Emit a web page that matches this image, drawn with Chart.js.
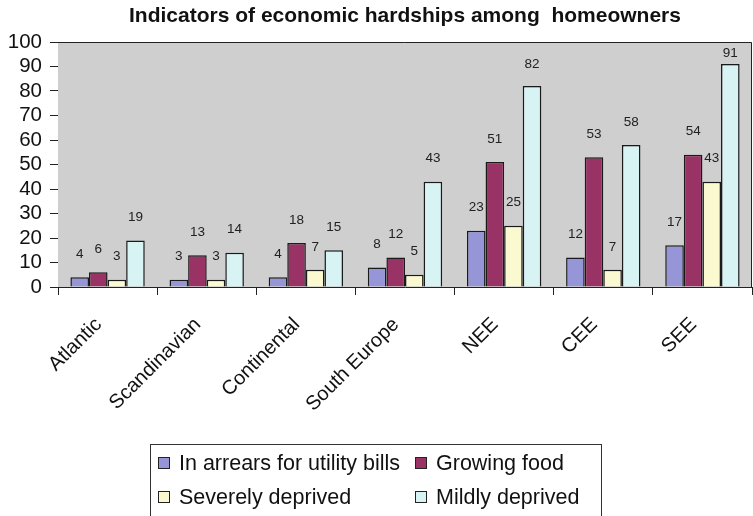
<!DOCTYPE html>
<html><head><meta charset="utf-8">
<script src="https://cdn.jsdelivr.net/npm/chart.js@4"></script>
<style>
html,body{margin:0;padding:0;background:#fff;}
#wrap{position:relative;width:753px;height:516px;overflow:hidden;}
#legend{position:absolute;left:150px;top:444px;width:452px;height:90px;border:1px solid #333;box-sizing:border-box;font-family:"Liberation Sans",Arial,sans-serif;font-size:21.5px;color:#111;}
.item{position:absolute;display:flex;align-items:center;white-space:nowrap;height:24px;line-height:24px;}
.sw{width:10px;height:10px;border:1px solid #222;margin-right:9px;flex:none;}
</style></head>
<body>
<div id="wrap">
<canvas id="c" width="753" height="516"></canvas>
<div id="legend"></div>
</div>
<script>
const categories = ['Atlantic','Scandinavian','Continental','South Europe','NEE','CEE','SEE'];
const arrears = [4,3,4,8,23,12,17];
const growingFood = [6,13,18,12,51,53,54];
const severelyDeprived = [3,3,7,5,25,7,43];
const mildlyDeprived = [19,14,15,43,82,58,91];
const seriesNames = ['In arrears for utility bills','Growing food','Severely deprived','Mildly deprived'];
const seriesColors = ['#9595D8','#993366','#FBF9CF','#D7F3F3'];
const yMin = 0, yMax = 100, yStep = 10;
const titleText = 'Indicators of economic hardships among  homeowners';

const FONT = '"Liberation Sans", Arial, Helvetica, sans-serif';

const plotDeco = {
  id:'plotDeco',
  beforeDatasetsDraw(chart){
    const {ctx, chartArea:a} = chart;
    ctx.save();
    ctx.fillStyle = '#CFCFCF';
    ctx.fillRect(a.left, a.top, a.right-a.left, a.bottom-a.top);
    ctx.restore();
  },
  afterDatasetsDraw(chart){
    const {ctx, chartArea:a} = chart;
    ctx.save();
    ctx.strokeStyle = '#222';
    ctx.lineWidth = 1;
    ctx.beginPath();
    ctx.moveTo(a.left, a.top+0.5);
    ctx.lineTo(a.right-0.5, a.top+0.5);
    ctx.lineTo(a.right-0.5, a.bottom);
    ctx.stroke();
    ctx.font = '13.5px ' + FONT;
    ctx.fillStyle = '#222';
    ctx.textAlign = 'center';
    ctx.textBaseline = 'middle';
    chart.data.datasets.forEach((ds, i) => {
      const meta = chart.getDatasetMeta(i);
      meta.data.forEach((bar, j) => {
        const y = Math.max(bar.y - 23, (bar.y + a.top) / 2);
        ctx.fillText(String(ds.data[j]), bar.x, y);
      });
    });
    ctx.restore();
  }
};

const seriesData = [arrears, growingFood, severelyDeprived, mildlyDeprived];
const chart = new Chart(document.getElementById('c'), {
  type:'bar',
  data:{
    labels: categories,
    datasets: seriesData.map((d,i)=>({
      label: seriesNames[i],
      data: d,
      backgroundColor: seriesColors[i],
      borderColor: '#1a1a1a',
      borderWidth: 1.5,
      categoryPercentage: 0.75,
      barPercentage: 1.0
    }))
  },
  options:{
    responsive:false,
    animation:false,
    layout:{padding:{left:0,right:1,top:0,bottom:0}},
    plugins:{
      legend:{display:false},
      tooltip:{enabled:false},
      title:{
        display:true, text:titleText, fullSize:false,
        color:'#111', font:{family:FONT, size:21, weight:'bold', lineHeight:1.2},
        padding:{top:4,bottom:12.8}
      }
    },
    scales:{
      x:{
        grid:{display:true, drawOnChartArea:false, drawTicks:true, tickLength:8, color:'#222', offset:true},
        border:{display:true, color:'#222', width:1},
        ticks:{font:{family:FONT,size:20}, color:'#111', maxRotation:45, minRotation:45, autoSkip:false, padding:18, labelOffset:-9},
        afterFit(s){ s.height = 229; }
      },
      y:{
        min:yMin, max:yMax,
        grid:{display:true, drawOnChartArea:false, drawTicks:true, tickLength:8, color:'#222'},
        border:{display:true, color:'#222', width:1},
        ticks:{stepSize:yStep, autoSkip:false, font:{family:FONT,size:20.5}, color:'#111', padding:8},
        afterFit(s){ s.width = 58; }
      }
    }
  },
  plugins:[plotDeco]
});

// HTML legend built from the chart's datasets
const leg = document.getElementById('legend');
const pos = [[7,6],[264,6],[7,40],[264,40]];
chart.data.datasets.forEach((ds,i)=>{
  const it = document.createElement('div');
  it.className='item';
  it.style.left = pos[i][0]+'px';
  it.style.top = pos[i][1]+'px';
  const sw = document.createElement('span');
  sw.className='sw';
  sw.style.background = ds.backgroundColor;
  const tx = document.createElement('span');
  tx.textContent = ds.label;
  it.appendChild(sw); it.appendChild(tx);
  leg.appendChild(it);
});
</script>
</body></html>
